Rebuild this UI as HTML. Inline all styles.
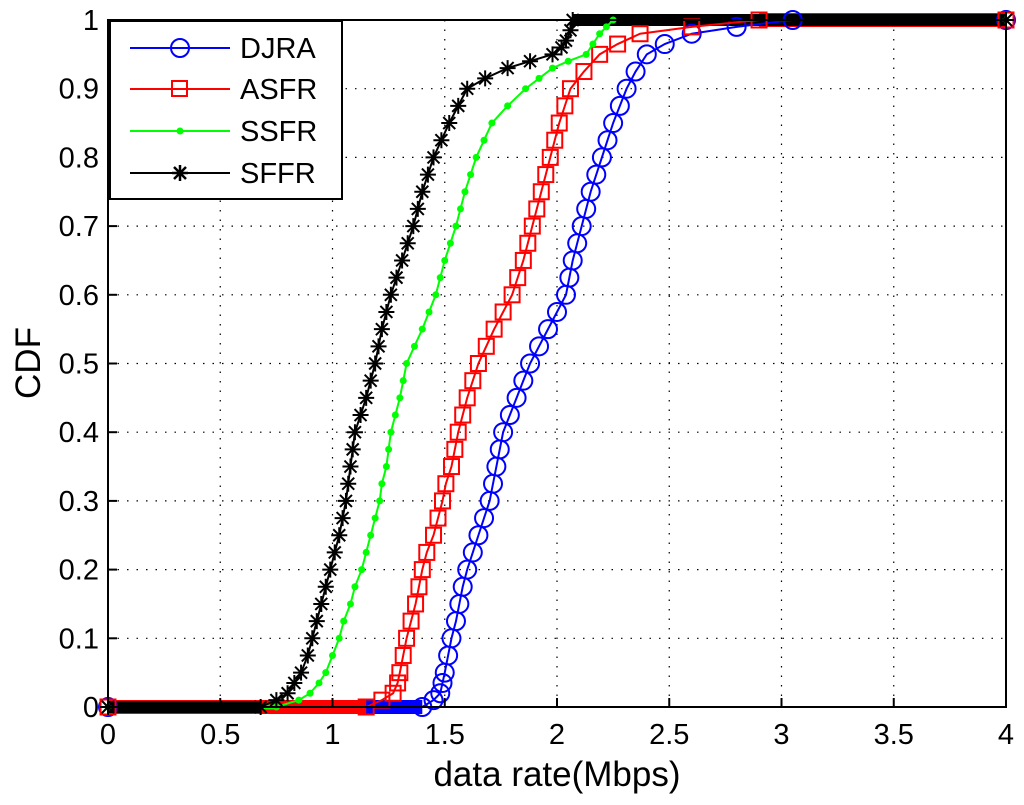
<!DOCTYPE html>
<html><head><meta charset="utf-8"><style>
body{margin:0;background:#fff;width:1024px;height:800px;overflow:hidden}
svg{font-family:"Liberation Sans",sans-serif}
</style></head><body>
<svg id="chart" width="1024" height="800" viewBox="0 0 1024 800" xmlns="http://www.w3.org/2000/svg">
<g id="grid"></g>
<g id="zero"></g>
<g id="series"></g>
<g id="axes"></g>
<text x="557" y="786" font-size="35" text-anchor="middle">data rate(Mbps)</text>
<text x="0" y="0" font-size="35" text-anchor="middle" transform="translate(40,363) rotate(-90)">CDF</text>
<g>
<rect x="110" y="21" width="232" height="178" fill="#fff" stroke="#000" stroke-width="2"/>
<g><line x1="130" y1="48" x2="230" y2="48" stroke="#00f" stroke-width="2"/><circle cx="180" cy="48" r="9" fill="none" stroke="#00f" stroke-width="2"/><text x="240" y="58" font-size="29">DJRA</text></g>
<g><line x1="130" y1="89" x2="230" y2="89" stroke="#f00" stroke-width="2"/><rect x="172" y="81" width="15" height="15" fill="none" stroke="#f00" stroke-width="2"/><text x="240" y="99" font-size="29">ASFR</text></g>
<g><line x1="130" y1="131" x2="230" y2="131" stroke="#0f0" stroke-width="2"/><circle cx="180" cy="131" r="3.5" fill="#0f0"/><text x="240" y="141" font-size="29">SSFR</text></g>
<g><line x1="130" y1="173" x2="230" y2="173" stroke="#000" stroke-width="2"/><path d="M172,173H188M180,165V181M174,167L186,179M174,179L186,167" stroke="#000" stroke-width="2.5"/><text x="240" y="183" font-size="29">SFFR</text></g>
</g>
</svg>
<script>
const xTicks=[0,0.5,1,1.5,2,2.5,3,3.5,4];
const xTickLabels=["0","0.5","1","1.5","2","2.5","3","3.5","4"];
const yTicks=[0,0.1,0.2,0.3,0.4,0.5,0.6,0.7,0.8,0.9,1];
const yTickLabels=["0","0.1","0.2","0.3","0.4","0.5","0.6","0.7","0.8","0.9","1"];
const djraX=[0,1.40,1.45,1.48,1.49,1.50,1.515,1.53,1.55,1.565,1.58,1.60,1.625,1.65,1.675,1.70,1.715,1.73,1.745,1.76,1.79,1.82,1.85,1.88,1.92,1.96,2.00,2.04,2.055,2.07,2.09,2.11,2.13,2.15,2.175,2.20,2.225,2.25,2.28,2.31,2.35,2.40,2.48,2.6,2.8,3.05,4];
const djraY=[0,0,0.01,0.02,0.035,0.05,0.075,0.1,0.125,0.15,0.175,0.2,0.225,0.25,0.275,0.3,0.325,0.35,0.375,0.4,0.425,0.45,0.475,0.5,0.525,0.55,0.575,0.6,0.625,0.65,0.675,0.7,0.725,0.75,0.775,0.8,0.825,0.85,0.875,0.9,0.925,0.95,0.965,0.98,0.99,1,1];
const asfrX=[0,1.15,1.22,1.27,1.29,1.30,1.315,1.33,1.35,1.37,1.385,1.40,1.42,1.45,1.47,1.49,1.505,1.53,1.545,1.56,1.58,1.60,1.625,1.65,1.685,1.72,1.76,1.80,1.825,1.85,1.87,1.89,1.91,1.93,1.95,1.97,1.99,2.01,2.035,2.06,2.12,2.19,2.27,2.37,2.6,2.9,4];
const asfrY=[0,0,0.01,0.02,0.035,0.05,0.075,0.1,0.125,0.15,0.175,0.2,0.225,0.25,0.275,0.3,0.325,0.35,0.375,0.4,0.425,0.45,0.475,0.5,0.525,0.55,0.575,0.6,0.625,0.65,0.675,0.7,0.725,0.75,0.775,0.8,0.825,0.85,0.875,0.9,0.925,0.95,0.965,0.98,0.99,1,1];
const ssfrX=[0,0.75,0.85,0.90,0.94,0.97,1.00,1.03,1.05,1.08,1.10,1.13,1.15,1.17,1.19,1.21,1.22,1.24,1.25,1.26,1.28,1.30,1.315,1.33,1.365,1.40,1.43,1.46,1.48,1.50,1.525,1.55,1.57,1.59,1.615,1.64,1.675,1.71,1.78,1.86,1.92,1.98,2.05,2.13,2.16,2.19,2.22,2.25,4];
const ssfrY=[0,0,0.01,0.02,0.035,0.05,0.075,0.1,0.125,0.15,0.175,0.2,0.225,0.25,0.275,0.3,0.325,0.35,0.375,0.4,0.425,0.45,0.475,0.5,0.525,0.55,0.575,0.6,0.625,0.65,0.675,0.7,0.725,0.75,0.775,0.8,0.825,0.85,0.875,0.9,0.915,0.93,0.94,0.95,0.965,0.98,0.99,1,1];
const sffrX=[0,0.68,0.75,0.80,0.83,0.86,0.89,0.91,0.93,0.95,0.97,0.99,1.01,1.03,1.045,1.06,1.07,1.08,1.09,1.10,1.125,1.15,1.17,1.19,1.205,1.22,1.24,1.26,1.285,1.31,1.335,1.36,1.38,1.40,1.425,1.45,1.485,1.52,1.56,1.60,1.68,1.78,1.88,1.98,2.02,2.04,2.06,2.07,4];
const sffrY=[0,0,0.01,0.02,0.035,0.05,0.075,0.1,0.125,0.15,0.175,0.2,0.225,0.25,0.275,0.3,0.325,0.35,0.375,0.4,0.425,0.45,0.475,0.5,0.525,0.55,0.575,0.6,0.625,0.65,0.675,0.7,0.725,0.75,0.775,0.8,0.825,0.85,0.875,0.9,0.915,0.93,0.94,0.95,0.96,0.97,0.985,1,1];
const NS="http://www.w3.org/2000/svg";
const L=108,R=1006,T=20,B=707;
function sx(v){return L+(v-0)/(4-0)*(R-L);}
function sy(v){return B-(v-0)/(1-0)*(B-T);}
function mk(tag,attrs,parent){const e=document.createElementNS(NS,tag);for(const k in attrs)e.setAttribute(k,attrs[k]);parent.appendChild(e);return e;}
const grid=document.getElementById('grid'),axes=document.getElementById('axes'),ser=document.getElementById('series'),zero=document.getElementById('zero');
xTicks.forEach((t,i)=>{
  if(t>0&&t<4){const g=mk('line',{x1:sx(t),x2:sx(t),y1:T,y2:B,stroke:'#000','stroke-width':1.2,'stroke-dasharray':'1.5 8'},grid);
  
  }
  const tk=mk('line',{x1:sx(t),x2:sx(t),y1:B,y2:B-9,stroke:'#000','stroke-width':2},axes);
  
  
  const lb=mk('text',{x:sx(t),y:744,'font-size':29,'text-anchor':'middle'},axes);lb.textContent=xTickLabels[i];
  
  
});
yTicks.forEach((t,i)=>{
  if(t>0&&t<1){const g=mk('line',{x1:L,x2:R,y1:sy(t),y2:sy(t),stroke:'#000','stroke-width':1.2,'stroke-dasharray':'1.5 8'},grid);
  
  }
  const tk=mk('line',{x1:L,x2:L+9,y1:sy(t),y2:sy(t),stroke:'#000','stroke-width':2},axes);
  
  
  const lb=mk('text',{x:99,y:sy(t)+10,'font-size':29,'text-anchor':'end'},axes);lb.textContent=yTickLabels[i];
  
  
});
const fr=mk('rect',{x:L,y:T,width:R-L,height:B-T,fill:'none',stroke:'#000','stroke-width':2},axes);


const S=[
 {n:'djra',x:djraX,y:djraY,c:'#00f',m:'o',bw:14},
 {n:'asfr',x:asfrX,y:asfrY,c:'#f00',m:'s',bw:14},
 {n:'ssfr',x:ssfrX,y:ssfrY,c:'#0f0',m:'d',bw:5},
 {n:'sffr',x:sffrX,y:sffrY,c:'#000',m:'*',bw:12}];
S.forEach(s=>{
  const z=mk('line',{x1:sx(s.x[0]),x2:sx(s.x[1]),y1:sy(0),y2:sy(0),stroke:s.c,'stroke-width':s.bw},zero);
  
  
  const n=s.x.length;
  const tb=mk('line',{x1:sx(s.x[n-2]),x2:sx(s.x[n-1]),y1:sy(1),y2:sy(1),stroke:s.c,'stroke-width':s.bw},zero);
  
  
  const g=mk('g',{},ser);
  
  
  const pts=s.x.map((v,i)=>sx(v)+','+sy(s.y[i])).join(' ');
  const pl=mk('polyline',{points:pts,fill:'none',stroke:s.c,'stroke-width':2},g);
  
  
  s.x.forEach((v,i)=>{
    const X=sx(v),Y=sy(s.y[i]);let e;
    if(s.m==='o')e=mk('circle',{cx:X,cy:Y,r:9,fill:'none',stroke:s.c,'stroke-width':2},g);
    else if(s.m==='s')e=mk('rect',{x:X-7.5,y:Y-7.5,width:15,height:15,fill:'none',stroke:s.c,'stroke-width':2},g);
    else if(s.m==='d')e=mk('circle',{cx:X,cy:Y,r:3.5,fill:s.c},g);
    else e=mk('path',{d:`M${X-8},${Y}H${X+8}M${X},${Y-8}V${Y+8}M${X-6},${Y-6}L${X+6},${Y+6}M${X-6},${Y+6}L${X+6},${Y-6}`,stroke:s.c,'stroke-width':2},g);
    
    
  });
});
</script>
</body></html>
